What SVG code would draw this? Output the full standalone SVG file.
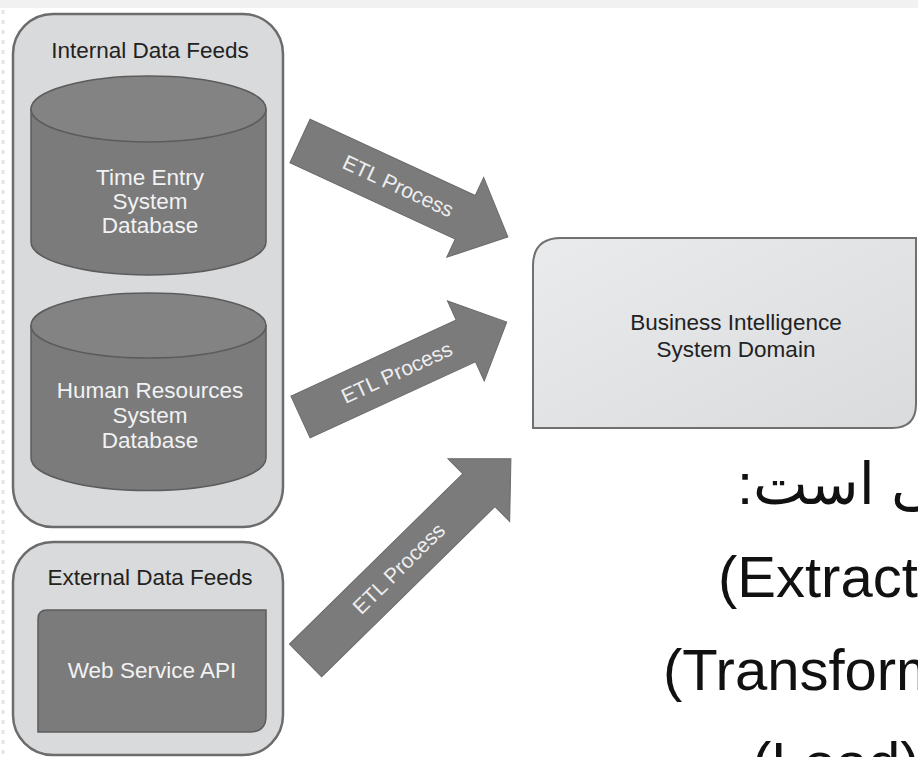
<svg xmlns="http://www.w3.org/2000/svg" width="918" height="757" viewBox="0 0 918 757">
<defs>
<style>
.panel{fill:#d9dadb;stroke:#6c6c6c;stroke-width:2.5}
.db{fill:#7b7b7c;stroke:#5c5c5c;stroke-width:1.5}
.dbtop{fill:#838384;stroke:#5c5c5c;stroke-width:1.5}
.lbl{font-family:"Liberation Sans",Arial,sans-serif;font-size:22.5px;text-anchor:middle}
.dark{fill:#222}
.light{fill:#f2f2f2}
.arrow{fill:#7b7b7c;stroke:#6a6a6a;stroke-width:1}
.etl{font-family:"Liberation Sans",Arial,sans-serif;font-size:21px;fill:#eeeeee;text-anchor:middle}
.big{font-family:"Liberation Sans","DejaVu Sans",sans-serif;font-size:58px;fill:#111}
</style>
<linearGradient id="bigrad" x1="0" y1="0" x2="1" y2="1">
<stop offset="0" stop-color="#eaebed"/>
<stop offset="1" stop-color="#dadbdd"/>
</linearGradient>
</defs>
<rect x="0" y="0" width="918" height="757" fill="#ffffff"/>
<rect x="0" y="0" width="918" height="8" fill="#f1f1f1"/>
<line x1="3" y1="10" x2="3" y2="757" stroke="#e6e6e6" stroke-width="3" stroke-dasharray="4 6"/>

<g id="internal-feeds">
<rect class="panel" x="13" y="14" width="270" height="513" rx="40" ry="40"/>
<text class="lbl dark" x="150" y="58">Internal Data Feeds</text>
</g>

<g id="time-entry-db">
<path class="db" d="M31,109 L31,242 A117.5,33 0 0 0 266,242 L266,109 Z"/>
<ellipse class="dbtop" cx="148.5" cy="109" rx="117.5" ry="33"/>
<text class="lbl light" x="150" y="185">Time Entry</text>
<text class="lbl light" x="150" y="209">System</text>
<text class="lbl light" x="150" y="233">Database</text>
</g>

<g id="hr-db">
<path class="db" d="M31,325.5 L31,458 A117.5,32.5 0 0 0 266,458 L266,325.5 Z"/>
<ellipse class="dbtop" cx="148.5" cy="325.5" rx="117.5" ry="32.5"/>
<text class="lbl light" x="150" y="398">Human Resources</text>
<text class="lbl light" x="150" y="423">System</text>
<text class="lbl light" x="150" y="448">Database</text>
</g>

<g id="external-feeds">
<rect class="panel" x="13" y="542" width="270" height="213" rx="40" ry="40"/>
<text class="lbl dark" x="150" y="585">External Data Feeds</text>
</g>

<g id="web-service-api">
<path class="db" d="M38,619 Q38,610 47,610 L266,610 L266,716 Q266,732 250,732 L38,732 Z"/>
<text class="lbl light" x="152" y="678">Web Service API</text>
</g>

<g id="bi-domain">
<path d="M533,428 L533,266 Q533,238 561,238 L916,238 L916,404 Q916,428 892,428 Z" fill="url(#bigrad)" stroke="#707070" stroke-width="2"/>
<text class="lbl dark" x="736" y="330">Business Intelligence</text>
<text class="lbl dark" x="736" y="357">System Domain</text>
</g>

<g id="connectors">
<g transform="translate(300,141) rotate(24.8)">
<path class="arrow" d="M0,-24 L182,-24 L182,-44 L229,0 L182,44 L182,24 L0,24 Z"/>
<text class="etl" x="108" y="7">ETL Process</text>
</g>
<g transform="translate(300.5,417) rotate(-24.7)">
<path class="arrow" d="M0,-23 L182,-23 L182,-44 L227,0 L182,44 L182,23 L0,23 Z"/>
<text class="etl" x="106" y="7">ETL Process</text>
</g>
<g transform="translate(305.5,660.5) rotate(-44.5)">
<path class="arrow" d="M0,-23 L243,-23 L243,-44 L288,0 L243,44 L243,23 L0,23 Z"/>
<text class="etl" x="131" y="7">ETL Process</text>
</g>
</g>

<g id="notes">
<text class="big" x="737" y="504" direction="rtl" text-anchor="end">اصلی است:</text>
<text class="big" x="718" y="597">(Extract)</text>
<text class="big" x="663" y="690">(Transform)</text>
<text class="big" x="752" y="783">(Load)</text>
</g>
</svg>
